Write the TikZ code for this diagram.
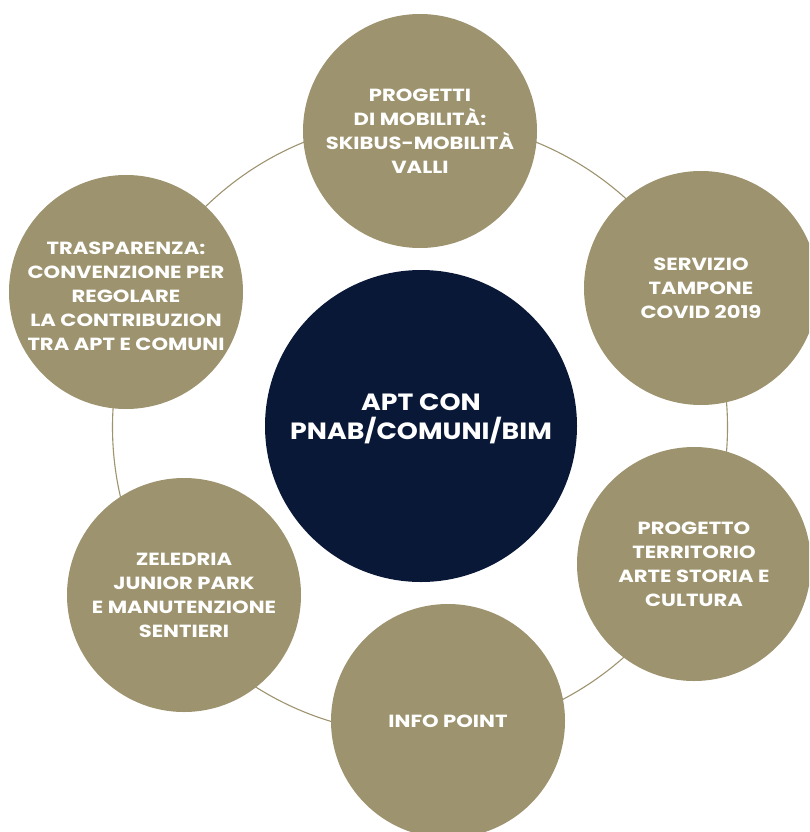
\documentclass[tikz,border=0pt]{standalone}
\usepackage{fontspec}
\setmainfont{Poppins}
\newfontfamily\widefont{Poppins}[FakeStretch=1.2]
\newfontfamily\hubfont{Poppins}[FakeStretch=1.14]
\definecolor{sand}{HTML}{9D936E}
\definecolor{navy}{HTML}{0A1838}
\begin{document}
\begin{tikzpicture}[x=1pt,y=-1pt,
  bubble/.style={circle, fill=sand, minimum size=234pt, inner sep=0pt,
    text=white, align=center, font=\widefont\bfseries\fontsize{17.6}{24}\selectfont},
  bubbletext/.style={text=white, align=center, font=\widefont\bfseries\fontsize{17.6}{24}\selectfont},
  hub/.style={circle, fill=navy, minimum size=312pt, inner sep=0pt},
  hubtext/.style={text=white, align=center, font=\hubfont\bfseries\fontsize{23.5}{29}\selectfont},
  ring/.style={circle, draw=sand, line width=1.1pt, minimum size=615pt, inner sep=0pt}]
\useasboundingbox (0,0) rectangle (809,832);
\clip (0,0) rectangle (809,832);

% connecting ring behind the bubbles
\node[ring] (orbit) at (420,427) {};

% central hub
\node[hub, label={[hubtext, yshift=7pt]center:{APT CON\\PNAB/COMUNI/BIM}}] (apt) at (421,426) {};

% surrounding themes
\node[bubble] (mobilita) at (420,131) {PROGETTI\\DI MOBILITÀ:\\SKIBUS-MOBILITÀ\\VALLI};
\node[bubble] (covid) at (701,288) {SERVIZIO\\TAMPONE\\COVID 2019};
\node[bubble] (cultura) at (694,564) {PROGETTO\\TERRITORIO\\ARTE STORIA E\\CULTURA};
\node[bubble] (info) at (448,721) {INFO POINT};
\node[bubble] (zeledria) at (184,595) {ZELEDRIA\\JUNIOR PARK\\E MANUTENZIONE\\SENTIERI};
\node[bubble] (trasparenza) at (126,292) {};
\node[bubbletext] (trasptext) at (126,296)
  {TRASPARENZA:\\CONVENZIONE PER\\REGOLARE\\LA CONTRIBUZION\\TRA APT E COMUNI};
\end{tikzpicture}
\end{document}
